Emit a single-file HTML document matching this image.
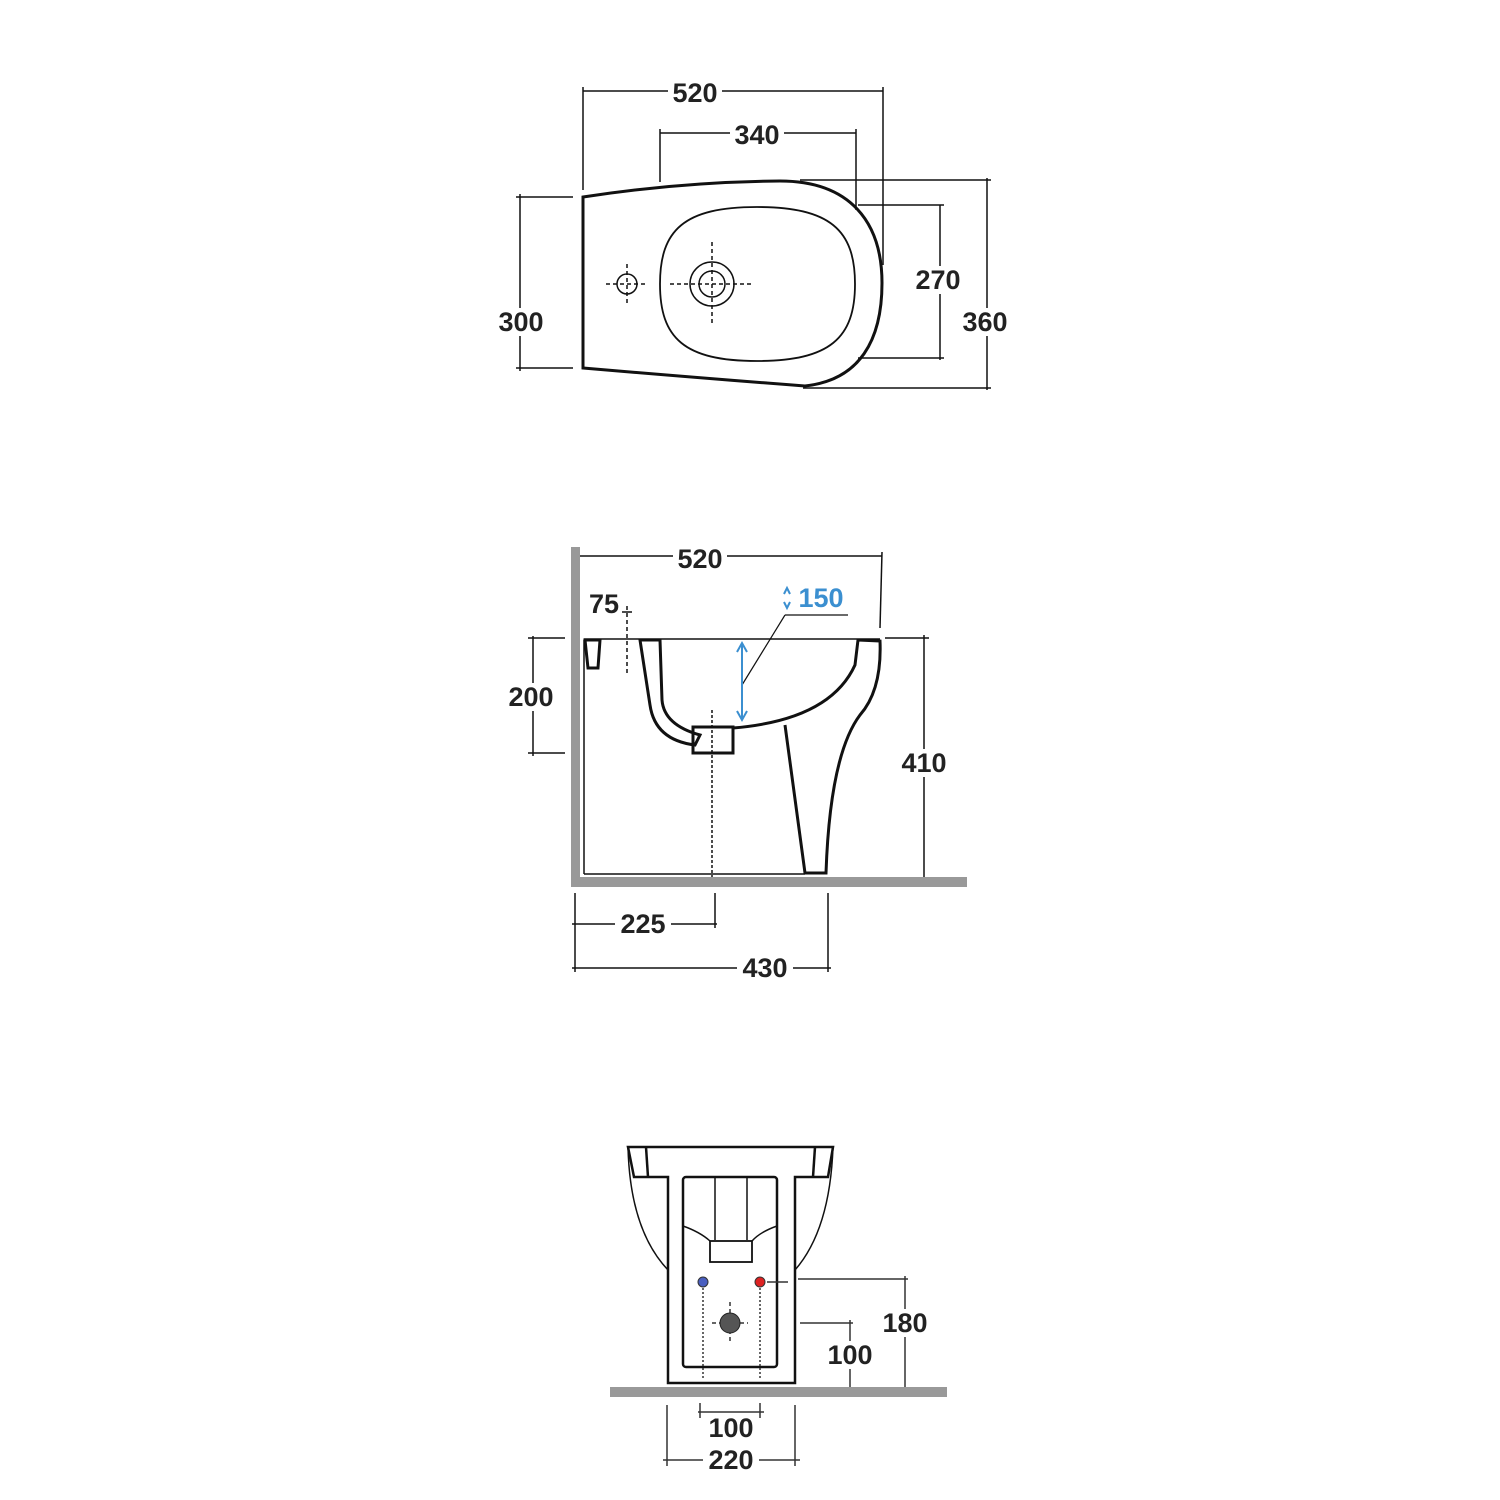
<!DOCTYPE html>
<html><head><meta charset="utf-8"><style>
html,body{margin:0;padding:0;background:#fff}
svg{display:block}
text{font-family:"Liberation Sans",sans-serif;font-size:27px;font-weight:bold;fill:#222;text-anchor:middle;dominant-baseline:central}
</style></head><body>
<svg width="1500" height="1500" viewBox="0 0 1500 1500" xmlns="http://www.w3.org/2000/svg">
<g fill="none" stroke="#111" stroke-width="1.5">
<!-- TOP VIEW -->
<path d="M583,197 L583,368 Q700,378 805,386 C860,380 882,340 882,283 C882,222 850,181 780,181 Q680,182 583,197 Z" stroke-width="3"/>
<path d="M757,207 C830,207 855,230 855,284 C855,338 830,361 757,361 C684,361 660,338 660,284 C660,230 684,207 757,207 Z" stroke-width="1.8"/>
<circle cx="627" cy="284" r="10"/>
<circle cx="712" cy="284" r="22"/><circle cx="712" cy="284" r="13"/>
<g stroke-dasharray="4,3">
<line x1="606" y1="284" x2="648" y2="284"/><line x1="627" y1="264" x2="627" y2="304"/>
<line x1="670" y1="284" x2="754" y2="284"/><line x1="712" y1="242" x2="712" y2="326"/>
</g>
<!-- top dims -->
<line x1="583" y1="91" x2="883" y2="91"/><line x1="583" y1="87" x2="583" y2="190"/><line x1="883" y1="87" x2="883" y2="265"/>
<line x1="660" y1="133" x2="856" y2="133"/><line x1="660" y1="129" x2="660" y2="182"/><line x1="856" y1="129" x2="856" y2="210"/>
<line x1="940" y1="205" x2="940" y2="360"/><line x1="858" y1="205" x2="944" y2="205"/><line x1="858" y1="358" x2="944" y2="358"/>
<line x1="987" y1="178" x2="987" y2="390"/><line x1="800" y1="180" x2="991" y2="180"/><line x1="803" y1="388" x2="991" y2="388"/>
<line x1="520" y1="194" x2="520" y2="371"/><line x1="516" y1="197" x2="573" y2="197"/><line x1="516" y1="368" x2="573" y2="368"/>
</g>
<rect x="668" y="78" width="54" height="28" fill="#fff"/><text x="695" y="93">520</text>
<rect x="730" y="120" width="54" height="28" fill="#fff"/><text x="757" y="135">340</text>
<rect x="910" y="266" width="56" height="28" fill="#fff"/><text x="938" y="280">270</text>
<rect x="957" y="308" width="56" height="28" fill="#fff"/><text x="985" y="322">360</text>
<rect x="493" y="308" width="56" height="28" fill="#fff"/><text x="521" y="322">300</text>

<!-- SIDE VIEW -->
<rect x="571" y="547" width="9" height="340" fill="#999"/>
<rect x="571" y="877" width="396" height="10" fill="#999"/>
<g fill="none" stroke="#111">
<line x1="584" y1="640" x2="584" y2="874" stroke-width="1.5"/>
<line x1="584" y1="874" x2="805" y2="874" stroke-width="1.5"/>
<line x1="584" y1="639" x2="880" y2="639" stroke-width="1.5"/>
<path d="M585,640 L600,640 L598,668 L588,668 Z" stroke-width="3"/>
<path d="M640,640 L660,640 L662,700 Q664,725 700,735 L695,745 Q655,740 650,705 Z" stroke-width="3"/>
<rect x="693" y="727" width="40" height="26" stroke-width="3"/>
<path d="M733,728 Q830,720 855,665 L858,640 L880,641 Q882,690 860,715 Q830,755 826,873 L805,873 L785,725" stroke-width="3"/>
<!-- dims -->
<line x1="580" y1="556" x2="882" y2="556" stroke-width="1.5"/><line x1="882" y1="552" x2="880" y2="628" stroke-width="1.5"/>
<line x1="627" y1="606" x2="627" y2="675" stroke-width="1.5" stroke-dasharray="4,3"/>
<line x1="622" y1="612" x2="632" y2="612" stroke-width="1.5"/>
<line x1="848" y1="615" x2="785" y2="615" stroke-width="1.2"/><line x1="785" y1="615" x2="742" y2="685" stroke-width="1.2"/>
<line x1="533" y1="636" x2="533" y2="756" stroke-width="1.5"/><line x1="528" y1="638" x2="565" y2="638" stroke-width="1.5"/><line x1="528" y1="753" x2="565" y2="753" stroke-width="1.5"/>
<line x1="924" y1="635" x2="924" y2="877" stroke-width="1.5"/><line x1="885" y1="638" x2="929" y2="638" stroke-width="1.5"/>
<line x1="712" y1="710" x2="712" y2="877" stroke-width="1.5" stroke-dasharray="3,2"/>
<line x1="572" y1="924" x2="717" y2="924" stroke-width="1.5"/><line x1="575" y1="893" x2="575" y2="972" stroke-width="1.5"/><line x1="715" y1="893" x2="715" y2="928" stroke-width="1.5"/>
<line x1="572" y1="968" x2="831" y2="968" stroke-width="1.5"/><line x1="828" y1="893" x2="828" y2="972" stroke-width="1.5"/>
</g>
<g stroke="#3b8fd0" stroke-width="2" fill="none">
<line x1="742" y1="645" x2="742" y2="718"/><path d="M737,652 L742,643 L747,652 M737,711 L742,720 L747,711"/>
<path d="M784,594 L787,588 L790,594 M784,602 L787,608 L790,602"/>
</g>
<rect x="673" y="544" width="54" height="28" fill="#fff"/><text x="700" y="559">520</text>
<text x="604" y="604">75</text>
<text x="821" y="598" style="fill:#3b8fd0">150</text>
<rect x="503" y="683" width="56" height="28" fill="#fff"/><text x="531" y="697">200</text>
<rect x="896" y="749" width="56" height="28" fill="#fff"/><text x="924" y="763">410</text>
<rect x="615" y="910" width="56" height="28" fill="#fff"/><text x="643" y="924">225</text>
<rect x="737" y="954" width="56" height="28" fill="#fff"/><text x="765" y="968">430</text>

<!-- FRONT VIEW -->
<rect x="610" y="1387" width="337" height="10" fill="#999"/>
<g fill="none" stroke="#111" stroke-width="2.5">
<path d="M628,1147 L833,1147 L828,1177 L795,1177 L795,1383 L668,1383 L668,1177 L634,1177 Z"/>
<line x1="646" y1="1147" x2="648" y2="1177"/><line x1="815" y1="1147" x2="813" y2="1177"/>
<path d="M628,1147 Q630,1230 668,1270 M833,1147 Q830,1230 795,1270" stroke-width="1.5"/>
<rect x="683" y="1177" width="94" height="190" rx="3"/>
<line x1="715" y1="1177" x2="715" y2="1240" stroke-width="1.5"/><line x1="747" y1="1177" x2="747" y2="1240" stroke-width="1.5"/>
<rect x="710" y="1241" width="42" height="21" stroke-width="1.8"/>
<path d="M683,1226 Q700,1232 710,1241 M777,1226 Q760,1232 752,1241" stroke-width="1.5"/>
</g>
<circle cx="703" cy="1282" r="5" fill="#4a5fc0" stroke="#333"/><circle cx="760" cy="1282" r="5" fill="#d22" stroke="#333"/>
<g stroke="#333" stroke-width="1.5" fill="none">
<line x1="703" y1="1288" x2="703" y2="1378" stroke-dasharray="2,2"/><line x1="760" y1="1288" x2="760" y2="1378" stroke-dasharray="2,2"/>
<line x1="767" y1="1282" x2="788" y2="1282"/>
<line x1="730" y1="1302" x2="730" y2="1344" stroke-dasharray="4,3"/><line x1="712" y1="1323" x2="748" y2="1323" stroke-dasharray="4,3"/>
<line x1="798" y1="1279" x2="908" y2="1279"/><line x1="905" y1="1276" x2="905" y2="1387"/>
<line x1="800" y1="1323" x2="853" y2="1323"/><line x1="850" y1="1320" x2="850" y2="1387"/>
<line x1="698" y1="1412" x2="764" y2="1412"/><line x1="700" y1="1403" x2="700" y2="1418"/><line x1="760" y1="1403" x2="760" y2="1418"/>
<line x1="663" y1="1460" x2="800" y2="1460"/><line x1="667" y1="1405" x2="667" y2="1466"/><line x1="795" y1="1405" x2="795" y2="1466"/>
</g>
<circle cx="730" cy="1323" r="10" fill="#555" stroke="#222"/>
<rect x="877" y="1309" width="56" height="28" fill="#fff"/><text x="905" y="1323">180</text>
<rect x="822" y="1341" width="56" height="28" fill="#fff"/><text x="850" y="1355">100</text>
<text x="731" y="1428">100</text>
<rect x="703" y="1446" width="56" height="28" fill="#fff"/><text x="731" y="1460">220</text>
</svg>
</body></html>
